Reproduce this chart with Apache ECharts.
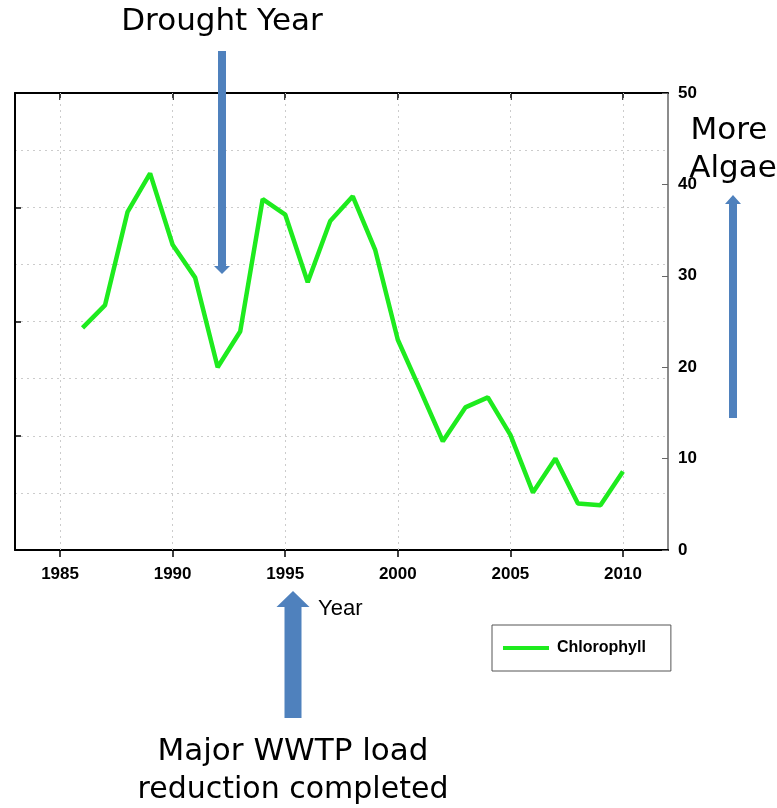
<!DOCTYPE html>
<html>
<head>
<meta charset="utf-8">
<script src="https://cdn.jsdelivr.net/npm/echarts@6/dist/echarts.min.js"></script>
<style>
  html, body { margin: 0; padding: 0; background: #fff; }
</style>
</head>
<body>
<div id="chart" style="width: 777px; height: 808px"></div>
<script>
var years = [1986, 1987, 1988, 1989, 1990, 1991, 1992, 1993, 1994, 1995, 1996, 1997, 1998,
  1999, 2000, 2001, 2002, 2003, 2004, 2005, 2006, 2007, 2008, 2009, 2010]
var chlorophyll = [24.3, 26.8, 37.0, 41.2, 33.4, 29.8, 20.0, 23.9, 38.4, 36.7, 29.3, 36.0, 38.7,
  32.8, 23.0, 17.5, 11.9, 15.6, 16.7, 12.6, 6.3, 10.0, 5.1, 4.9, 8.6]
var yearTicks = [1985, 1990, 1995, 2000, 2005, 2010]

var data = years.map(function (y, i) {
  return [y, chlorophyll[i]]
})

var blue = '#4F81BD'
var handFont = '"DejaVu Sans", sans-serif'
var labelFont = { fontFamily: 'Liberation Sans, Arial', fontWeight: 'bold', fontSize: 17, color: '#000' }

// arrow shape: shaft + head, pointing up or down
function arrow (x, y1, y2, shaftW, headW, headH) {
  var dir = y2 < y1 ? -1 : 1
  var hb = y2 - dir * headH
  return {
    type: 'polygon',
    shape: {
      points: [
        [x - shaftW / 2, y1], [x + shaftW / 2, y1], [x + shaftW / 2, hb],
        [x + headW / 2, hb], [x, y2], [x - headW / 2, hb], [x - shaftW / 2, hb]
      ]
    },
    style: { fill: blue },
    z: 100
  }
}

function note (text, x, y, size) {
  return {
    type: 'text', x: x, y: y,
    style: { text: text, fill: '#000', font: size + 'px ' + handFont, align: 'center', verticalAlign: 'middle' }
  }
}

var chart = echarts.init(document.getElementById('chart'))
chart.setOption({
  animation: false,
  grid: { left: 15, right: 109, top: 93, bottom: 258 },
  legend: {
    left: 492,
    top: 625,
    padding: [15, 25, 15, 11],
    borderColor: '#555',
    borderWidth: 1,
    icon: 'rect',
    itemWidth: 46,
    itemHeight: 4,
    itemGap: 10,
    textStyle: { fontFamily: 'Liberation Sans, Arial', fontWeight: 'bold', fontSize: 16, color: '#000', padding: [0, 0, 0, 3] },
    data: ['Chlorophyll']
  },
  xAxis: [
    {
      type: 'value',
      min: 1983,
      max: 2012,
      position: 'bottom',
      axisLine: { onZero: false, lineStyle: { color: '#000', width: 2 } },
      axisTick: { show: true, customValues: yearTicks, length: 7, lineStyle: { color: '#000', width: 1.5 } },
      axisLabel: Object.assign({
        customValues: yearTicks,
        margin: 16,
        formatter: function (v) { return String(v) }
      }, labelFont),
      splitLine: { show: false }
    },
    {
      type: 'value',
      min: 1983,
      max: 2012,
      position: 'top',
      axisLine: { show: true, onZero: false, lineStyle: { color: '#000', width: 2 } },
      axisTick: { show: true, inside: true, customValues: yearTicks, length: 7, lineStyle: { color: '#000', width: 1.5 } },
      axisLabel: { show: false },
      splitLine: { show: false }
    }
  ],
  yAxis: [
    {
      type: 'value',
      position: 'right',
      min: 0,
      max: 50,
      interval: 10,
      axisLine: { show: true, onZero: false, lineStyle: { color: '#666', width: 1.5 } },
      axisTick: { show: true, inside: true, length: 6, lineStyle: { color: '#666' } },
      axisLabel: Object.assign({ margin: 10 }, labelFont),
      splitLine: { show: false }
    },
    {
      type: 'value',
      position: 'left',
      min: 0,
      max: 4,
      interval: 1,
      axisLine: { show: true, onZero: false, lineStyle: { color: '#000', width: 2 } },
      axisTick: { show: true, inside: true, length: 6, lineStyle: { color: '#000', width: 1.5 } },
      axisLabel: { show: false },
      minorTick: { show: false, splitNumber: 2 },
      splitLine: { show: true, lineStyle: { color: '#ccc', type: [2, 4], width: 1 } },
      minorSplitLine: { show: true, lineStyle: { color: '#ccc', type: [2, 4], width: 1 } }
    }
  ],
  series: [
    {
      name: 'Chlorophyll',
      type: 'line',
      xAxisIndex: 0,
      yAxisIndex: 0,
      data: data,
      symbol: 'none',
      color: '#1EEB1E',
      lineStyle: { color: '#1EEB1E', width: 4.5 },
      markLine: {
        silent: true,
        symbol: 'none',
        label: { show: false },
        lineStyle: { color: '#ccc', type: [2, 4], width: 1 },
        data: yearTicks.map(function (y) { return { xAxis: y } }),
        z: 1
      },
      z: 5
    }
  ],
  graphic: [
    arrow(222, 51, 274, 8, 16, 8),
    arrow(733, 418, 195, 8, 16, 9),
    arrow(293, 718, 591, 17, 33, 16),
    note('Drought Year', 222, 22, 31),
    note('More', 729, 131, 31),
    note('Algae', 733, 169, 31),
    {
      type: 'text', x: 318, y: 609,
      style: { text: 'Year', fill: '#000', font: '22px "Liberation Sans", Arial', align: 'left', verticalAlign: 'middle' }
    },
    note('Major WWTP load', 293, 752, 31),
    note('reduction completed', 293, 790, 30)
  ]
})
</script>
</body>
</html>
